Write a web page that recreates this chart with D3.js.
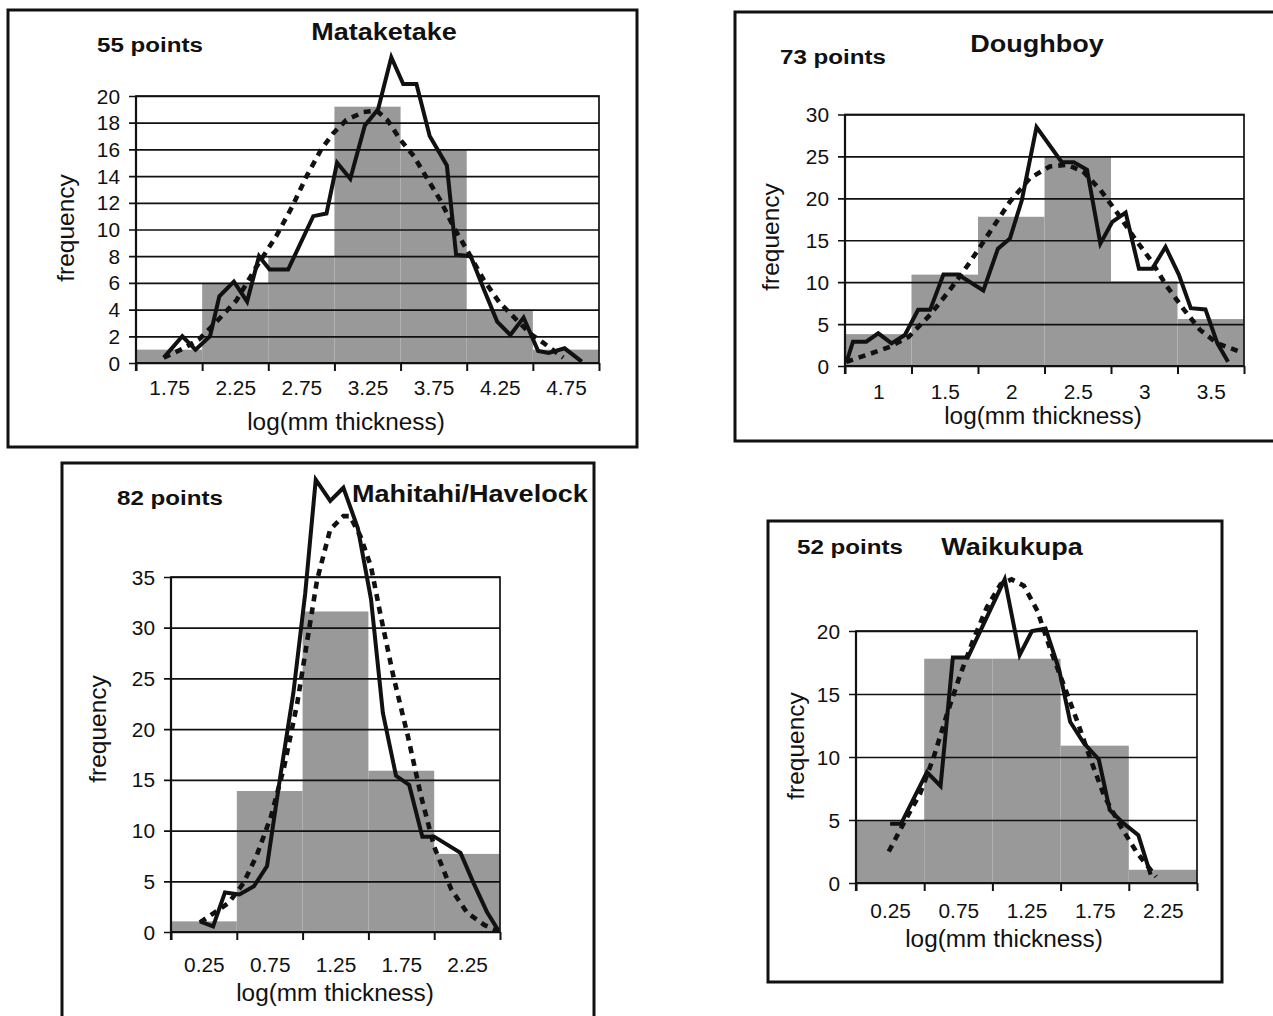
<!DOCTYPE html>
<html><head><meta charset="utf-8">
<script src="https://cdn.jsdelivr.net/npm/d3@7"></script>
<style>body{margin:0;background:#fff}svg{display:block}</style>
</head><body><svg id="c" width="1273" height="1016"></svg>
<script>
// ---------------- DATA ----------------
const titles = ["Mataketake", "Doughboy", "Mahitahi/Havelock", "Waikukupa"];
const pointCounts = ["55 points", "73 points", "82 points", "52 points"];
const xAxisTitle = "log(mm thickness)";
const yAxisTitle = "frequency";

// Mataketake
const mataketakeBinEdges = [1.5, 2.0, 2.5, 3.0, 3.5, 4.0, 4.5, 5.0];
const mataketakeTickLabels = ["1.75", "2.25", "2.75", "3.25", "3.75", "4.25", "4.75"];
const mataketakeBarFreq = [1, 6, 8, 19.2, 16, 4, 1];
const mataketakeYTicks = [0, 2, 4, 6, 8, 10, 12, 14, 16, 18, 20];
const mataketakeObsX = [1.71, 1.85, 1.95, 2.06, 2.13, 2.24, 2.34, 2.43, 2.51, 2.65, 2.84, 2.94, 3.02, 3.12, 3.23, 3.33, 3.43, 3.52, 3.62, 3.72, 3.85, 3.92, 4.03, 4.13, 4.23, 4.33, 4.43, 4.54, 4.62, 4.74, 4.87];
const mataketakeObsY = [0.4, 2.0, 1.0, 2.0, 5.0, 6.1, 4.6, 8.0, 7.0, 7.0, 11.0, 11.2, 15.0, 13.8, 17.8, 19.0, 22.9, 20.9, 20.9, 17.0, 14.8, 8.1, 8.0, 5.5, 3.1, 2.1, 3.4, 0.9, 0.75, 1.1, 0.1];
const mataketakeFitX = [1.71, 1.86, 1.98, 2.10, 2.26, 2.41, 2.56, 2.68, 2.79, 2.90, 2.99, 3.09, 3.22, 3.32, 3.40, 3.50, 3.60, 3.69, 3.80, 3.90, 4.00, 4.13, 4.25, 4.38, 4.48, 4.58, 4.73];
const mataketakeFitY = [0.4, 1.1, 1.8, 3.0, 4.7, 7.2, 9.5, 11.7, 14.0, 16.0, 17.2, 18.2, 18.8, 18.9, 18.2, 16.7, 15.5, 14.0, 12.2, 10.2, 8.5, 6.2, 4.5, 3.2, 2.2, 1.5, 0.4];

// Doughboy
const doughboyBinEdges = [0.75, 1.25, 1.75, 2.25, 2.75, 3.25, 3.75];
const doughboyTickLabels = ["1", "1.5", "2", "2.5", "3", "3.5"];
const doughboyBarFreq = [3.8, 10.9, 17.8, 25, 10.1, 5.6];
const doughboyYTicks = [0, 5, 10, 15, 20, 25, 30];
const doughboyObsX = [0.76, 0.81, 0.91, 1.0, 1.1, 1.2, 1.3, 1.39, 1.49, 1.6, 1.79, 1.9, 1.99, 2.08, 2.19, 2.38, 2.47, 2.57, 2.67, 2.76, 2.86, 2.96, 3.06, 3.16, 3.26, 3.35, 3.46, 3.55, 3.63];
const doughboyObsY = [0.4, 2.9, 2.9, 3.9, 2.7, 3.7, 6.7, 6.7, 10.9, 10.9, 9.0, 14.0, 15.2, 19.8, 28.5, 24.3, 24.3, 23.4, 14.6, 17.2, 18.3, 11.6, 11.6, 14.2, 10.9, 6.9, 6.75, 2.7, 0.5];
const doughboyFitX = [0.76, 0.91, 1.09, 1.23, 1.39, 1.54, 1.69, 1.84, 1.99, 2.14, 2.29, 2.42, 2.54, 2.67, 2.8, 2.92, 3.05, 3.17, 3.3, 3.42, 3.55, 3.72];
const doughboyFitY = [0.5, 1.3, 2.3, 3.5, 6.1, 9.1, 12.4, 16.0, 19.6, 22.4, 23.8, 24.0, 23.2, 21.0, 18.2, 15.4, 12.6, 9.5, 6.7, 4.3, 2.7, 1.7];

// Mahitahi/Havelock
const mahitahiBinEdges = [0, 0.5, 1.0, 1.5, 2.0, 2.5];
const mahitahiTickLabels = ["0.25", "0.75", "1.25", "1.75", "2.25"];
const mahitahiBarFreq = [1.05, 13.9, 31.6, 15.9, 7.7];
const mahitahiYTicks = [0, 5, 10, 15, 20, 25, 30, 35];
const mahitahiObsX = [0.22, 0.32, 0.41, 0.52, 0.63, 0.73, 0.83, 0.93, 1.02, 1.1, 1.21, 1.31, 1.42, 1.52, 1.61, 1.71, 1.81, 1.91, 2.0, 2.2, 2.3, 2.4, 2.49];
const mahitahiObsY = [1.05, 0.56, 3.9, 3.7, 4.5, 6.5, 15.3, 23.6, 33.4, 44.6, 42.5, 43.8, 39.8, 32.8, 21.6, 15.4, 14.5, 9.4, 9.4, 7.8, 4.8, 2.0, 0.1];
const mahitahiFitX = [0.22, 0.33, 0.44, 0.55, 0.65, 0.76, 0.86, 0.96, 1.04, 1.11, 1.21, 1.31, 1.36, 1.44, 1.52, 1.59, 1.69, 1.8, 1.9, 2.0, 2.13, 2.25, 2.38, 2.49];
const mahitahiFitY = [0.95, 1.9, 2.9, 4.8, 7.5, 11.4, 16.3, 22.6, 29.1, 34.7, 39.7, 41.0, 41.0, 39.0, 36.0, 31.4, 25.2, 19.3, 13.4, 8.4, 4.2, 1.9, 0.7, 0.1];

// Waikukupa
const waikukupaBinEdges = [0, 0.5, 1.0, 1.5, 2.0, 2.5];
const waikukupaTickLabels = ["0.25", "0.75", "1.25", "1.75", "2.25"];
const waikukupaBarFreq = [5.0, 17.8, 17.8, 10.9, 1.05];
const waikukupaYTicks = [0, 5, 10, 15, 20];
const waikukupaObsX = [0.25, 0.33, 0.52, 0.62, 0.71, 0.82, 1.09, 1.2, 1.29, 1.39, 1.49, 1.57, 1.67, 1.78, 1.86, 1.96, 2.07, 2.16];
const waikukupaObsY = [4.7, 4.7, 8.8, 7.7, 17.9, 17.9, 24.1, 18.1, 20.0, 20.2, 16.9, 12.8, 11.1, 9.8, 5.8, 4.75, 3.8, 0.66];
const waikukupaFitX = [0.24, 0.35, 0.47, 0.57, 0.67, 0.76, 0.86, 0.96, 1.06, 1.14, 1.23, 1.33, 1.42, 1.52, 1.62, 1.72, 1.82, 1.94, 2.06, 2.2];
const waikukupaFitY = [2.5, 4.75, 7.1, 10.0, 13.5, 16.4, 19.3, 21.9, 23.7, 24.1, 23.6, 21.6, 18.7, 15.8, 12.9, 9.8, 6.9, 4.5, 2.4, 0.5];

// ---------------- LAYOUT ----------------
const FONT = "'Liberation Sans', Arial, Helvetica, sans-serif";
const SX_BOLD = 1.15;  // horizontal stretch of the scanned bold lettering
const SX_REG = 1.07;   // horizontal stretch of the regular lettering
const panels = [
  { title: titles[0], points: pointCounts[0], edges: mataketakeBinEdges, labels: mataketakeTickLabels, bars: mataketakeBarFreq, yTicks: mataketakeYTicks,
    obsX: mataketakeObsX, obsY: mataketakeObsY, fitX: mataketakeFitX, fitY: mataketakeFitY,
    frame: [8, 10, 637, 447], plot: { x0: 136, x1: 599, yb: 363, yt: 96 },
    labY: 395, axTitle: [346, 430], freq: [74, 228], pointsPos: [97, 52, "start"], titlePos: [384, 40, "middle"] },
  { title: titles[1], points: pointCounts[1], edges: doughboyBinEdges, labels: doughboyTickLabels, bars: doughboyBarFreq, yTicks: doughboyYTicks,
    obsX: doughboyObsX, obsY: doughboyObsY, fitX: doughboyFitX, fitY: doughboyFitY,
    frame: [735, 12, 1278, 441], plot: { x0: 845, x1: 1244, yb: 366, yt: 114.5 },
    labY: 399, axTitle: [1043, 424], freq: [779, 237], pointsPos: [780, 64, "start"], titlePos: [1037, 52, "middle"] },
  { title: titles[2], points: pointCounts[2], edges: mahitahiBinEdges, labels: mahitahiTickLabels, bars: mahitahiBarFreq, yTicks: mahitahiYTicks,
    obsX: mahitahiObsX, obsY: mahitahiObsY, fitX: mahitahiFitX, fitY: mahitahiFitY,
    frame: [62, 463, 594, 1030], plot: { x0: 171, x1: 500, yb: 932, yt: 577 },
    labY: 972, axTitle: [335, 1001], freq: [106, 729], pointsPos: [117, 505, "start"], titlePos: [352, 502, "start"] },
  { title: titles[3], points: pointCounts[3], edges: waikukupaBinEdges, labels: waikukupaTickLabels, bars: waikukupaBarFreq, yTicks: waikukupaYTicks,
    obsX: waikukupaObsX, obsY: waikukupaObsY, fitX: waikukupaFitX, fitY: waikukupaFitY,
    frame: [768, 521, 1222, 982], plot: { x0: 856, x1: 1197, yb: 883, yt: 631 },
    labY: 918, axTitle: [1004, 947], freq: [804, 746], pointsPos: [797, 554, "start"], titlePos: [1012, 555, "middle"] }
];

const svg = d3.select("#c");
svg.append("rect").attr("width", 1273).attr("height", 1016).attr("fill", "#fff");

function txt(g, x, y, s, size, weight, anchor, sx, rotate) {
  const tr = rotate ? `translate(${x},${y}) rotate(${rotate})` : `translate(${x},${y}) scale(${sx},1)`;
  return g.append("text").attr("transform", tr).attr("text-anchor", anchor)
    .attr("font-family", FONT).attr("font-size", size).attr("font-weight", weight)
    .attr("fill", "#111").text(s);
}

panels.forEach(p => {
  const g = svg.append("g");
  const [fx0, fy0, fx1, fy1] = p.frame;
  g.append("rect").attr("x", fx0).attr("y", fy0).attr("width", fx1 - fx0).attr("height", fy1 - fy0)
    .attr("fill", "none").attr("stroke", "#111").attr("stroke-width", 3);

  const x = d3.scaleLinear().domain([p.edges[0], p.edges[p.edges.length - 1]]).range([p.plot.x0, p.plot.x1]);
  const y = d3.scaleLinear().domain([0, d3.max(p.yTicks)]).range([p.plot.yb, p.plot.yt]);
  const w = p.plot.x1 - p.plot.x0;

  // bars
  g.append("g").selectAll("rect").data(p.bars).join("rect")
    .attr("x", (d, i) => x(p.edges[i])).attr("width", (d, i) => x(p.edges[i + 1]) - x(p.edges[i]))
    .attr("y", d => y(d)).attr("height", d => y(0) - y(d)).attr("fill", "#999");

  // gridlines + y tick labels
  const ya = g.append("g").attr("transform", `translate(${p.plot.x0},0)`)
    .call(d3.axisLeft(y).tickValues(p.yTicks).tickSize(-w).tickSizeOuter(0).tickPadding(0).tickFormat(d3.format("d")));
  ya.select(".domain").remove();
  ya.selectAll(".tick line").attr("x1", -7).attr("stroke", "#111").attr("stroke-width", 1.7);
  ya.selectAll(".tick text").attr("x", null).attr("dy", "0.36em")
    .attr("transform", `translate(-16,0) scale(${SX_REG},1)`)
    .attr("font-family", FONT).attr("font-size", 19.5).attr("fill", "#111");

  // x tick marks at bin edges
  const xm = g.append("g").attr("transform", `translate(0,${p.plot.yb})`)
    .call(d3.axisBottom(x).tickValues(p.edges).tickSize(8).tickSizeOuter(0).tickFormat(""));
  xm.select(".domain").remove();
  xm.selectAll(".tick line").attr("stroke", "#111").attr("stroke-width", 2);

  // x labels at bin centres
  const centers = p.edges.slice(0, -1).map((e, i) => (e + p.edges[i + 1]) / 2);
  const xl = g.append("g").attr("transform", `translate(0,${p.plot.yb})`)
    .call(d3.axisBottom(x).tickValues(centers).tickSize(0).tickFormat((d, i) => p.labels[i]));
  xl.select(".domain").remove();
  xl.selectAll(".tick text").attr("y", null).attr("dy", null)
    .attr("transform", `translate(0,${p.labY - p.plot.yb}) scale(${SX_REG},1)`)
    .attr("font-family", FONT).attr("font-size", 19.5).attr("fill", "#111");

  // plot border
  g.append("rect").attr("x", p.plot.x0).attr("y", p.plot.yt).attr("width", w).attr("height", p.plot.yb - p.plot.yt)
    .attr("fill", "none").attr("stroke", "#111").attr("stroke-width", 1.7);
  g.append("line").attr("x1", p.plot.x0).attr("x2", p.plot.x0).attr("y1", p.plot.yt).attr("y2", p.plot.yb + 8)
    .attr("stroke", "#111").attr("stroke-width", 2.2);
  g.append("line").attr("x1", p.plot.x0).attr("x2", p.plot.x1).attr("y1", p.plot.yb).attr("y2", p.plot.yb)
    .attr("stroke", "#111").attr("stroke-width", 2.2);

  // lines
  const line = d3.line().x(d => x(d[0])).y(d => y(d[1]));
  g.append("path").datum(p.fitX.map((v, i) => [v, p.fitY[i]]))
    .attr("d", line).attr("fill", "none").attr("stroke", "#111").attr("stroke-width", 4.6)
    .attr("stroke-dasharray", "7,6");
  g.append("path").datum(p.obsX.map((v, i) => [v, p.obsY[i]]))
    .attr("d", line).attr("fill", "none").attr("stroke", "#111").attr("stroke-width", 4)
    .attr("stroke-linejoin", "miter");

  // texts
  txt(g, p.pointsPos[0], p.pointsPos[1], p.points, 21, "bold", p.pointsPos[2], SX_BOLD);
  txt(g, p.titlePos[0], p.titlePos[1], p.title, 23.5, "bold", p.titlePos[2], SX_BOLD);
  txt(g, p.axTitle[0], p.axTitle[1], xAxisTitle, 23, "normal", "middle", 1.06);
  txt(g, p.freq[0], p.freq[1], yAxisTitle, 24.5, "normal", "middle", 1, -90);
});
</script>
</body></html>
